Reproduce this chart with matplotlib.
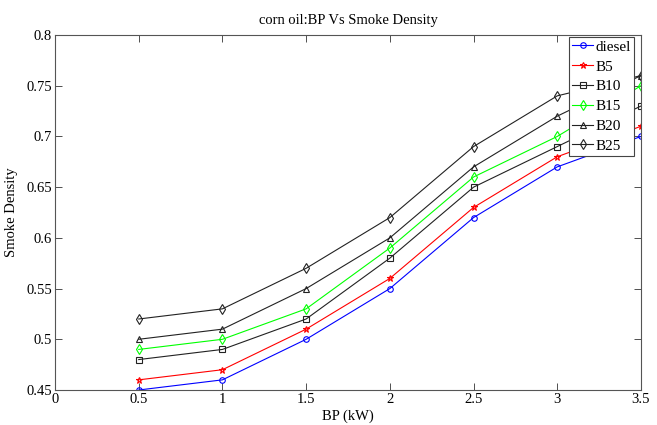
import matplotlib
matplotlib.use("Agg")
import matplotlib.pyplot as plt

bp = [0.5, 1.0, 1.5, 2.0, 2.5, 3.0, 3.5]
diesel = [0.45, 0.46, 0.50, 0.55, 0.62, 0.67, 0.70]
b5 = [0.46, 0.47, 0.51, 0.56, 0.63, 0.68, 0.71]
b10 = [0.48, 0.49, 0.52, 0.58, 0.65, 0.69, 0.73]
b15 = [0.49, 0.50, 0.53, 0.59, 0.66, 0.70, 0.75]
b20 = [0.50, 0.51, 0.55, 0.60, 0.67, 0.72, 0.76]
b25 = [0.52, 0.53, 0.57, 0.62, 0.69, 0.74, 0.76]

names = ["diesel", "B5", "B10", "B15", "B20", "B25"]
series = [diesel, b5, b10, b15, b20, b25]
colors = ["#0000ff", "#ff0000", "#222222", "#00ff00", "#222222", "#222222"]
markers = ["o", "*", "s", "d", "^", "d"]
msizes = [4, 5, 5, 5, 5, 5]

xticks = [0, 0.5, 1, 1.5, 2, 2.5, 3, 3.5]
xticklabels = ["0", "0.5", "1", "1.5", "2", "2.5", "3", "3.5"]
yticks = [0.45, 0.5, 0.55, 0.6, 0.65, 0.7, 0.75, 0.8]
yticklabels = ["0.45", "0.5", "0.55", "0.6", "0.65", "0.7", "0.75", "0.8"]

plt.rcParams['font.family'] = ['Liberation Serif', 'DejaVu Serif']

fig = plt.figure(figsize=(6.57, 4.25), dpi=100)
ax = fig.add_axes([55/657, 1-390/425, (641-55)/657, (390-35)/425])

for name, vals, c, m, ms in zip(names, series, colors, markers, msizes):
    ax.plot(bp, vals, color=c, marker=m, markersize=ms, markerfacecolor='none',
            markeredgecolor=c, linewidth=0.8, markeredgewidth=0.8, label=name)

ax.set_xlim(0, 3.5)
ax.set_ylim(0.45, 0.8)
ax.set_xticks(xticks)
ax.set_xticklabels(xticklabels)
ax.set_yticks(yticks)
ax.set_yticklabels(yticklabels)
ax.tick_params(direction='in', top=True, right=True, labelsize=10.5, length=5,
               width=0.6, colors='#333333', labelcolor='black', pad=2)
for s in ax.spines.values():
    s.set_color('#555555')
    s.set_linewidth(0.8)

ax.set_title("corn oil:BP Vs Smoke Density", fontsize=10.5, pad=8)
ax.set_xlabel("BP (kW)", fontsize=10.5, labelpad=3)
ax.set_ylabel("Smoke Density", fontsize=10.5, labelpad=6)

leg = ax.legend(loc='upper right', bbox_to_anchor=((634-55)/586, (390-37)/355),
                fontsize=11, frameon=True, fancybox=False,
                framealpha=1, edgecolor='#444444', handlelength=1.4,
                handletextpad=0.15, borderpad=0.2, labelspacing=0.4,
                borderaxespad=0.0, markerscale=1.0, numpoints=1)
leg.get_frame().set_linewidth(0.8)
leg.set_zorder(10)

fig.savefig("out.png", dpi=100)
